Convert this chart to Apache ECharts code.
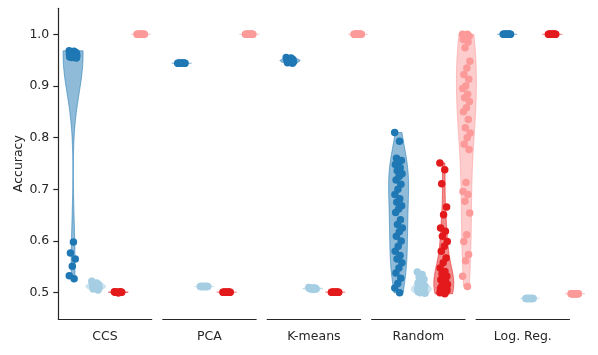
<!DOCTYPE html>
<html>
<head>
<meta charset="utf-8">
<script src="https://cdn.jsdelivr.net/npm/echarts@6/dist/echarts.min.js"></script>
<style>
  body { margin: 0; background: #fff; }
  #chart { width: 598px; height: 355px; }
</style>
</head>
<body>
<div id="chart"></div>
<script>
// facets and y ticks
const methods = ['CCS', 'PCA', 'K-means', 'Random', 'Log. Reg.'];
const yTicks = [0.5, 0.6, 0.7, 0.8, 0.9, 1.0];

// accuracy per method, 4 hue groups each (dark blue, light blue, red, pink)
const ccsAcc = [
  [0.968, 0.967, 0.966, 0.965, 0.965, 0.964, 0.964, 0.963, 0.963, 0.962, 0.962, 0.962, 0.961, 0.961, 0.961,
   0.960, 0.960, 0.960, 0.959, 0.959, 0.959, 0.958, 0.958, 0.957, 0.957, 0.956, 0.956, 0.955, 0.955, 0.954,
   0.598, 0.577, 0.565, 0.551, 0.533, 0.527],
  [0.522, 0.519, 0.517, 0.516, 0.514, 0.513, 0.512, 0.511, 0.510, 0.509, 0.507, 0.505],
  [0.502, 0.501, 0.501, 0.501, 0.500, 0.501, 0.502, 0.501, 0.501, 0.500, 0.501, 0.501],
  [1.0, 1.0, 1.0, 1.0, 1.0, 1.0, 1.0, 1.0, 1.0, 1.0, 1.0, 1.0]
];
const pcaAcc = [
  [0.944, 0.944, 0.944, 0.944, 0.944, 0.944, 0.944, 0.944, 0.944, 0.944, 0.944, 0.944],
  [0.512, 0.512, 0.512, 0.512, 0.512, 0.512, 0.512, 0.512, 0.512, 0.512, 0.512, 0.512],
  [0.501, 0.501, 0.501, 0.501, 0.501, 0.501, 0.501, 0.501, 0.501, 0.501, 0.501, 0.501],
  [1.0, 1.0, 1.0, 1.0, 1.0, 1.0, 1.0, 1.0, 1.0, 1.0, 1.0, 1.0]
];
const kmeansAcc = [
  [0.955, 0.954, 0.952, 0.951, 0.950, 0.950, 0.949, 0.948, 0.947, 0.946, 0.945, 0.944],
  [0.510, 0.509, 0.509, 0.508, 0.508, 0.508, 0.507, 0.507, 0.507, 0.506, 0.508, 0.509],
  [0.501, 0.501, 0.501, 0.501, 0.501, 0.501, 0.501, 0.501, 0.501, 0.501, 0.501, 0.501],
  [1.0, 1.0, 1.0, 1.0, 1.0, 1.0, 1.0, 1.0, 1.0, 1.0, 1.0, 1.0]
];
const randomAcc = [
  [0.810, 0.793, 0.760, 0.756, 0.752, 0.748, 0.742, 0.736, 0.730, 0.725, 0.718, 0.710, 0.700, 0.690, 0.682,
   0.675, 0.668, 0.662, 0.655, 0.641, 0.632, 0.625, 0.618, 0.609, 0.600, 0.590, 0.580, 0.572, 0.565, 0.558,
   0.548, 0.538, 0.528, 0.518, 0.509, 0.500],
  [0.540, 0.535, 0.530, 0.526, 0.522, 0.519, 0.516, 0.514, 0.513, 0.511, 0.510, 0.509, 0.508, 0.507, 0.506,
   0.505, 0.504, 0.503, 0.502, 0.501, 0.500, 0.499],
  [0.751, 0.738, 0.711, 0.666, 0.651, 0.625, 0.619, 0.609, 0.599, 0.590, 0.580, 0.567, 0.558, 0.548, 0.541,
   0.536, 0.532, 0.528, 0.525, 0.522, 0.519, 0.516, 0.514, 0.512, 0.511, 0.510, 0.508, 0.507, 0.506, 0.505,
   0.504, 0.503, 0.502, 0.501, 0.500, 0.498],
  [1.0, 1.0, 0.998, 0.996, 0.993, 0.990, 0.985, 0.974, 0.948, 0.935, 0.922, 0.913, 0.900, 0.895, 0.884,
   0.877, 0.870, 0.858, 0.850, 0.835, 0.819, 0.809, 0.800, 0.787, 0.777, 0.713, 0.696, 0.690, 0.677, 0.654,
   0.612, 0.599, 0.574, 0.562, 0.532, 0.512]
];
const logregAcc = [
  [1.0, 1.0, 1.0, 1.0, 1.0, 1.0, 1.0, 1.0, 1.0, 1.0, 1.0, 1.0],
  [0.489, 0.489, 0.489, 0.489, 0.489, 0.489, 0.489, 0.489, 0.489, 0.489, 0.489, 0.489],
  [1.0, 1.0, 1.0, 1.0, 1.0, 1.0, 1.0, 1.0, 1.0, 1.0, 1.0, 1.0],
  [0.498, 0.498, 0.498, 0.498, 0.498, 0.498, 0.498, 0.498, 0.498, 0.498, 0.498, 0.498]
];
const allAcc = [ccsAcc, pcaAcc, kmeansAcc, randomAcc, logregAcc];

const colors = ['#1f78b4', '#a6cee3', '#e31a1c', '#fb9a99'];
const hueOffset = [-0.3125, -0.104, 0.104, 0.3125];
const halfW = 0.092;   // violin max half width (x units)
const jit = 0.036;     // strip jitter (x units)
const yMin = 0.4491, yMax = 1.0503;
const font = 'DejaVu Sans';
const ink = '#262626';

// violin outline from a gaussian kde (scott), cut at data range, scaled to width
function violinShape(vals, xc) {
  const n = vals.length;
  const mean = vals.reduce((a, b) => a + b, 0) / n;
  const sd = Math.sqrt(vals.reduce((a, b) => a + (b - mean) * (b - mean), 0) / (n - 1));
  if (sd < 1e-6) return { line: true, xc: xc, y: mean };
  const bw = sd * Math.pow(n, -0.2);
  const lo = Math.min(...vals), hi = Math.max(...vals);
  const ys = [], ds = [];
  for (let k = 0; k <= 100; k++) {
    const y = lo + (hi - lo) * k / 100;
    let d = 0;
    vals.forEach(v => { const z = (y - v) / bw; d += Math.exp(-0.5 * z * z); });
    ys.push(y); ds.push(d);
  }
  const dmax = Math.max(...ds);
  const pts = [];
  ys.forEach((y, k) => pts.push([xc - ds[k] / dmax * halfW, y]));
  for (let k = ys.length - 1; k >= 0; k--) pts.push([xc + ds[k] / dmax * halfW, ys[k]]);
  return { line: false, pts: pts };
}

const shapes = [];
const violinData = [];
allAcc.forEach((groups, m) => {
  groups.forEach((vals, h) => {
    const xc = m + hueOffset[h];
    shapes.push(Object.assign(violinShape(vals, xc), { hue: h }));
    violinData.push([xc, vals[0], shapes.length - 1]);
  });
});

function hexA(hex, a) {
  const r = parseInt(hex.slice(1, 3), 16), g = parseInt(hex.slice(3, 5), 16), b = parseInt(hex.slice(5, 7), 16);
  return 'rgba(' + r + ',' + g + ',' + b + ',' + a + ')';
}

const chart = echarts.init(document.getElementById('chart'), null, { renderer: 'canvas' });

// grid 0: data layer; grids 1..5: per-facet axis frames
const grids = [{ left: 52.75, width: 542.5, top: 8.3, height: 310.7, outerBoundsMode: 'none' }];
const xAxes = [{ gridIndex: 0, type: 'value', min: -0.5, max: 4.5, show: false }];
const yAxes = [{ gridIndex: 0, type: 'value', min: yMin, max: yMax, show: false }];
methods.forEach((name, m) => {
  grids.push({ left: 58.3 + m * 104.45, width: 93.4, top: 8.3, height: 310.7, outerBoundsMode: 'none' });
  xAxes.push({
    gridIndex: m + 1, type: 'value', min: 0, max: 1,
    name: name, nameLocation: 'middle', nameGap: 11,
    nameTextStyle: { fontFamily: font, fontSize: 12.5, color: ink, verticalAlign: 'top' },
    axisLine: { show: true, lineStyle: { color: ink, width: 1.2 } },
    axisTick: { show: false }, axisLabel: { show: false }, splitLine: { show: false }
  });
  yAxes.push(m === 0 ? {
    gridIndex: 1, type: 'value', min: yMin, max: yMax,
    name: 'Accuracy', nameLocation: 'middle', nameGap: 27,
    nameTextStyle: { fontFamily: font, fontSize: 12.5, color: ink },
    axisLine: { show: true, lineStyle: { color: ink, width: 1.2 } },
    axisTick: { show: true, length: 5, lineStyle: { color: ink, width: 1.2 }, customValues: yTicks },
    axisLabel: { show: true, margin: 9, fontFamily: font, fontSize: 12.5, color: ink,
                 customValues: yTicks, formatter: v => v.toFixed(1) },
    splitLine: { show: false }
  } : { gridIndex: m + 1, type: 'value', min: yMin, max: yMax, show: false });
});

const series = [{
  type: 'custom',
  xAxisIndex: 0, yAxisIndex: 0,
  z: 2,
  silent: true,
  data: violinData,
  encode: { x: 0, y: 1 },
  renderItem: function (params, api) {
    const s = shapes[api.value(2)];
    const col = colors[s.hue];
    if (s.line) {
      const a = api.coord([s.xc - halfW, s.y]), b = api.coord([s.xc + halfW, s.y]);
      return { type: 'line', shape: { x1: a[0], y1: a[1], x2: b[0], y2: b[1] },
               style: { stroke: hexA(col, 0.5), lineWidth: 1.2 } };
    }
    return {
      type: 'polygon',
      shape: { points: s.pts.map(p => api.coord(p)) },
      style: { fill: hexA(col, 0.5), stroke: hexA(col, 0.55), lineWidth: 1 }
    };
  }
}];

colors.forEach((col, h) => {
  const pts = [];
  allAcc.forEach((groups, m) => {
    groups[h].forEach((v, i) => {
      const j = ((i * 0.61803) % 1 - 0.5) * 2 * jit;
      pts.push([m + hueOffset[h] + j, v]);
    });
  });
  series.push({
    type: 'scatter', xAxisIndex: 0, yAxisIndex: 0, z: 3,
    symbol: 'circle', symbolSize: 7.5, silent: true,
    itemStyle: { color: col, opacity: 1 },
    data: pts
  });
});

chart.setOption({
  animation: false,
  backgroundColor: '#fff',
  grid: grids,
  xAxis: xAxes,
  yAxis: yAxes,
  series: series
});
</script>
</body>
</html>
